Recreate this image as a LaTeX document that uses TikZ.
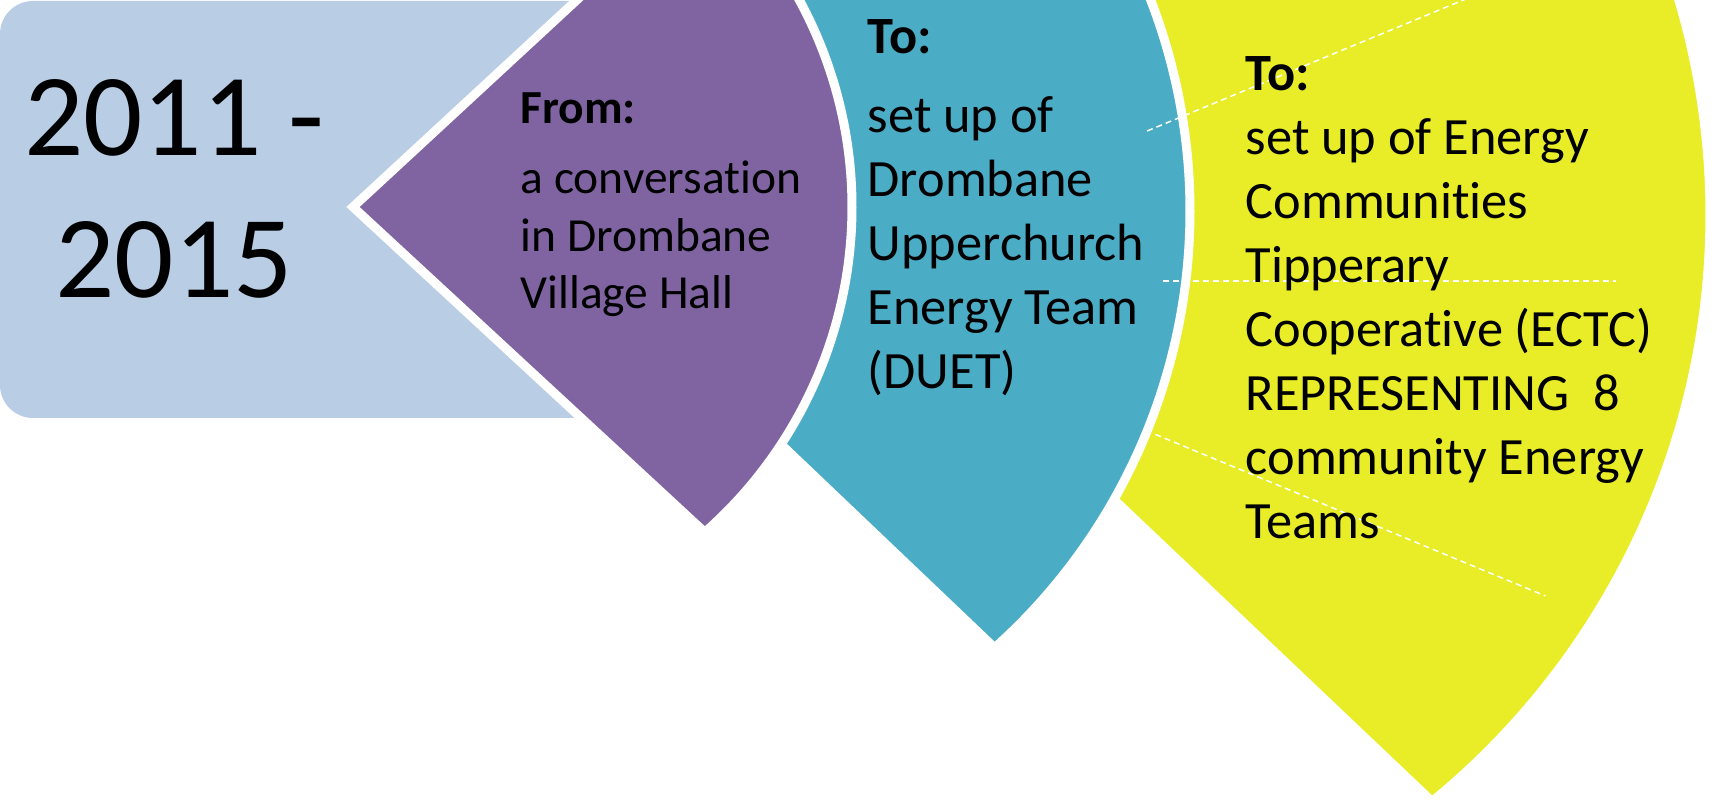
\documentclass[tikz,border=0pt]{standalone}
\usepackage{fontspec}
\setmainfont[Ligatures=NoCommon]{Carlito}
\usepackage{tikz}
\usetikzlibrary{positioning, calc}
\definecolor{tlblue}{HTML}{B9CDE5}
\definecolor{tlpurple}{HTML}{8064A2}
\definecolor{tlteal}{HTML}{4BACC6}
\definecolor{tlyellow}{HTML}{E9ED27}

\begin{document}
\begin{tikzpicture}[
  x=0.01cm, y=-0.01cm,
  wedge/.style={fill=#1, draw=white, line width=0.09cm, line join=miter},
  yearlabel/.style={font=\fontsize{33.3pt}{40.4pt}\selectfont, align=center, inner sep=0pt, anchor=base},
  fromtext/.style={font=\fontsize{13.5pt}{16.4pt}\selectfont, align=left, anchor=base west, inner sep=0pt},
  totext/.style={font=\fontsize{14.9pt}{18.2pt}\selectfont, align=left, anchor=base west, inner sep=0pt},
  guide/.style={draw=white, line width=0.015cm, dash pattern=on 0.06cm off 0.04cm},
]
\useasboundingbox (0,0) rectangle (1715,801);
\clip (0,0) rectangle (1715,801);

% Period box
\fill[tlblue, rounded corners=0.33cm] (0,1) rectangle (680,418);

% Wedges, drawn back to front
\coordinate (ycen) at (952,215);
\coordinate (yapex) at (814,215);
\draw[wedge=tlyellow] (yapex) -- ([shift={(50.7:758)}]ycen) arc[start angle=50.7, end angle=-50.7, radius=758] -- cycle;

\coordinate (tcen) at (604,211);
\coordinate (tapex) at (536,211);
\draw[wedge=tlteal] (tapex) -- ([shift={(48.2:586)}]tcen) arc[start angle=48.2, end angle=-48.2, radius=586] -- cycle;

\coordinate (pcen) at (419,207);
\coordinate (papex) at (353,207);
\draw[wedge=tlpurple] (papex) -- ([shift={(48.7:433)}]pcen) arc[start angle=48.7, end angle=-48.7, radius=433] -- cycle;

% Dashed guides
\coordinate (hub) at (785,281);
\draw[guide] ([shift={(-22.5:392)}]hub) -- ([shift={(-22.5:900)}]hub);
\draw[guide] ([shift={(0:378)}]hub) -- ([shift={(0:831)}]hub);
\draw[guide] ([shift={(22.5:401)}]hub) -- ([shift={(22.5:823)}]hub);

% Texts (base anchor sits on the last line)
\node[yearlabel] (period) at (174,298) {2011 -\\2015};
\node[fromtext] (fromtxt) at (520,309) {\textbf{From:}\\[0.12cm]a conversation\\in Drombane\\Village Hall};
\node[totext] (duet) at (867,389) {\textbf{To:}\\[0.15cm]set up of\\Drombane\\Upperchurch\\Energy Team\\(DUET)};
\node[totext] (ectc) at (1245,539) {\textbf{To:}\\set up of Energy\\Communities\\Tipperary\\Cooperative (ECTC)\\REPRESENTING\ \ 8\\community Energy\\Teams};

\end{tikzpicture}
\end{document}
